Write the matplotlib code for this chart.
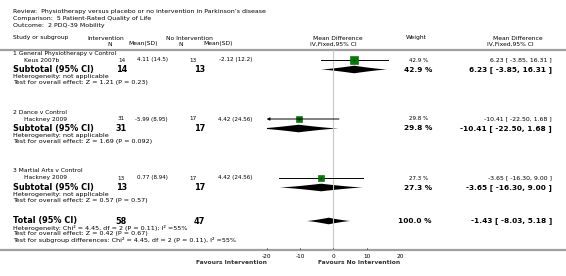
import numpy as np
import matplotlib.pyplot as plt
from matplotlib.patches import Polygon

# header text
review = "Review:  Physiotherapy versus placebo or no intervention in Parkinson\u2019s disease"
comparison = "Comparison:  5 Patient-Rated Quality of Life"
outcome = "Outcome:  2 PDQ-39 Mobility"

# study data
groups = ["1 General Physiotherapy v Control", "2 Dance v Control", "3 Martial Arts v Control"]
studies = ["Keus 2007b", "Hackney 2009", "Hackney 2009"]
n_int = [14, 31, 13]
mean_int = [4.11, -5.99, 0.77]
sd_int = ["14.5", "8.95", "8.94"]
n_ctl = [13, 17, 17]
mean_ctl = [-2.12, 4.42, 4.42]
sd_ctl = ["12.2", "24.56", "24.56"]
md = [6.23, -10.41, -3.65]
ci_lo = [-3.85, -22.50, -16.30]
ci_hi = [16.31, 1.68, 9.00]
weights = [42.9, 29.8, 27.3]
z_sub = ["1.21", "1.69", "0.57"]
p_sub = ["0.23", "0.092", "0.57"]

total_n = [58, 47]
total_md, total_lo, total_hi = -1.43, -8.03, 5.18
total_weight = 100.0
total_notes = [
    "Heterogeneity: Chi\u00b2 = 4.45, df = 2 (P = 0.11); I\u00b2 =55%",
    "Test for overall effect: Z = 0.42 (P = 0.67)",
    "Test for subgroup differences: Chi\u00b2 = 4.45, df = 2 (P = 0.11), I\u00b2 =55%",
]
ticks = [-20, -10, 0, 10, 20]

W, H = 566, 276
fig = plt.figure(figsize=(W / 100, H / 100), dpi=100)
plt.rcParams['font.family'] = ['DejaVu Sans']

# text layer in pixel coordinates
at = fig.add_axes([0, 0, 1, 1])
at.set_xlim(0, W)
at.set_ylim(H, 0)
at.axis("off")

# forest plot axes, -20..20 spans pixels 266.7..400
x0, x1 = 266.7, 400.0
ax = fig.add_axes([x0 / W, 0, (x1 - x0) / W, 1])
ax.set_xlim(-20, 20)
ax.set_ylim(H, 0)
ax.axis("off")

fs_note = 4.6
fs_bold = 5.9
fs_bold_r = 5.3
grey = "#333333"

def txt(x, y, s, size=fs_note, bold=False, ha="left", color="black"):
    at.text(x, y, s, fontsize=size, fontweight="bold" if bold else "normal",
            ha=ha, va="center", color=color)

txt(13, 12, review, 4.5)
txt(13, 18.5, comparison, 4.5)
txt(13, 25, outcome, 4.5)

# column headers
txt(13, 38, "Study or subgroup", 4.3)
txt(87, 38, "Intervention", 4.3)
txt(110, 44, "N", 4.3, ha="center")
txt(128, 44, "Mean(SD)", 4.3)
txt(166, 38, "No Intervention", 4.3)
txt(181, 44, "N", 4.3, ha="center")
txt(203, 44, "Mean(SD)", 4.3)
txt(313, 38, "Mean Difference", 4.3)
txt(310, 44, "IV,Fixed,95% CI", 4.3)
txt(416, 38, "Weight", 4.3, ha="center")
txt(493, 38, "Mean Difference", 4.3)
txt(487, 44, "IV,Fixed,95% CI", 4.3)

at.plot([0, W], [50, 50], color="#a0a0a0", lw=1.6, solid_capstyle="butt")
at.plot([0, W], [250, 250], color="#a0a0a0", lw=1.6, solid_capstyle="butt")
ax.plot([0, 0], [50, 250], color="#c8c8c8", lw=0.8)


def diamond(mid, lo, hi, y, h):
    # RevMan-style diamond with slightly concave sides
    t = np.linspace(0, 1, 30)
    xs_l = lo + (mid - lo) * t
    xs_r = hi - (hi - mid) * t
    half = h * t ** 1.3
    xs = np.concatenate([xs_l, xs_r[::-1], xs_r, xs_l[::-1]])
    ys = np.concatenate([y - half, y - half[::-1], y + half, y + half[::-1]])
    ax.add_patch(Polygon(np.column_stack([xs, ys]), closed=True, fc="black", ec="none"))


def ci_text(m, lo, hi):
    return f"{m:.2f} [ {lo:.2f}, {hi:.2f} ]"


group_y = [53, 112, 171]
for i, gy in enumerate(group_y):
    sy, suby = gy + 7, gy + 16.5
    txt(13, gy, groups[i], 4.3)
    txt(24, sy, studies[i], 4.3)
    txt(125, sy, str(n_int[i]), 4.1, ha="right")
    txt(168, sy, f"{mean_int[i]:.2f} ({sd_int[i]})", 4.1, ha="right")
    txt(197, sy, str(n_ctl[i]), 4.1, ha="right")
    txt(252, sy, f"{mean_ctl[i]:.2f} ({sd_ctl[i]})", 4.1, ha="right")
    txt(419, sy, f"{weights[i]:.1f} %", 4.0, ha="center")
    txt(552, sy, ci_text(md[i], ci_lo[i], ci_hi[i]), 4.4, ha="right")

    # CI line and square
    lo = max(ci_lo[i], -20)
    hi = min(ci_hi[i], 20)
    if ci_lo[i] < -20:
        ax.annotate("", xy=(lo, sy), xytext=(hi, sy),
                    arrowprops=dict(arrowstyle="-|>", lw=0.7, color="black",
                                    mutation_scale=4, shrinkA=0, shrinkB=0))
    else:
        ax.plot([lo, hi], [sy, sy], color="black", lw=0.7)
    side = 5.8 * np.sqrt(weights[i] / 42.9)
    ax.plot(md[i], sy, marker="s", ms=side, mfc="#008000", mec="#006000", mew=0.4)
    ax.plot(md[i], sy, marker="+", ms=2, mec="black", mew=0.4)

    # subtotal
    txt(13, suby, "Subtotal (95% CI)", fs_bold, bold=True)
    txt(127, suby, str(n_int[i]), fs_bold, bold=True, ha="right")
    txt(205, suby, str(n_ctl[i]), fs_bold, bold=True, ha="right")
    txt(432, suby, f"{weights[i]:.1f} %", fs_bold_r, bold=True, ha="right")
    txt(552, suby, ci_text(md[i], ci_lo[i], ci_hi[i]), fs_bold_r, bold=True, ha="right")
    diamond(md[i], ci_lo[i], ci_hi[i], suby, 3.8)
    txt(13, gy + 23.5, "Heterogeneity: not applicable")
    txt(13, gy + 29.5, f"Test for overall effect: Z = {z_sub[i]} (P = {p_sub[i]})")

# total
ty = 221
txt(13, ty, "Total (95% CI)", fs_bold, bold=True)
txt(127, ty, str(total_n[0]), fs_bold, bold=True, ha="right")
txt(205, ty, str(total_n[1]), fs_bold, bold=True, ha="right")
txt(432, ty, f"{total_weight:.1f} %", fs_bold_r, bold=True, ha="right")
txt(552, ty, ci_text(total_md, total_lo, total_hi), fs_bold_r, bold=True, ha="right")
diamond(total_md, total_lo, total_hi, ty, 3.3)
for k, line in enumerate(total_notes):
    txt(13, ty + 7 + 6 * k, line)

# axis ticks and labels
ax.vlines(ticks, 247.5, 249.3, color="black", lw=0.6)
for t in ticks:
    ax.text(t, 256, str(t), fontsize=4.2, ha="center", va="center")
ax.text(-20, 263, "Favours Intervention", fontsize=4.3, ha="right", va="center",
        fontweight="bold", color=grey)
ax.text(20, 263, "Favours No Intervention", fontsize=4.3, ha="right", va="center",
        fontweight="bold", color=grey)

fig.savefig("out.png", dpi=100)
